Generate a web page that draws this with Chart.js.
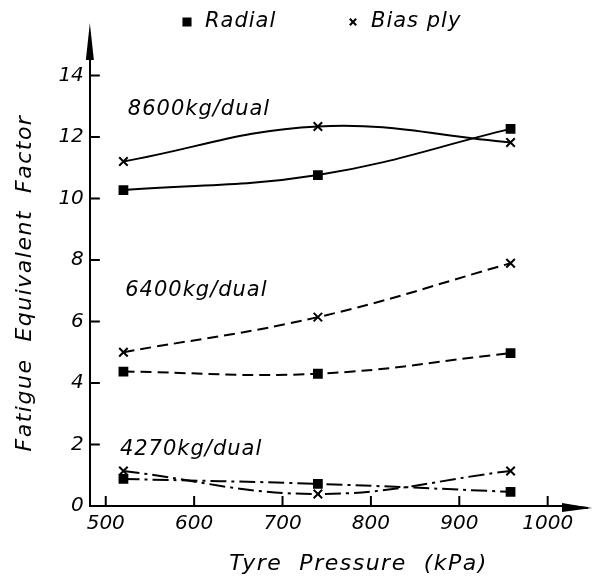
<!DOCTYPE html>
<html>
<head>
<meta charset="utf-8">
<script src="https://cdn.jsdelivr.net/npm/chart.js@4.4.1/dist/chart.umd.min.js"></script>
<style>
  html, body { margin: 0; padding: 0; background: #fff; }
  #wrap { width: 593px; height: 581px; }
</style>
</head>
<body>
<div id="wrap"><canvas id="chart"></canvas></div>
<script>
// data
const pressure = [520, 740, 958];
const radial8600 = [10.27, 10.76, 12.26];
const bias8600 = [11.2, 12.34, 11.82];
const radial6400 = [4.37, 4.3, 4.97];
const bias6400 = [5.0, 6.14, 7.89];
const radial4270 = [0.88, 0.72, 0.46];
const bias4270 = [1.14, 0.39, 1.14];
const xTicks = [500, 600, 700, 800, 900, 1000];
const yTicks = [0, 2, 4, 6, 8, 10, 12, 14];
const loadLabels = ['8600kg/dual', '6400kg/dual', '4270kg/dual'];
const seriesLabels = ['Radial', 'Bias ply'];
const xTitle = 'Tyre  Pressure  (kPa)';
const yTitle = 'Fatigue  Equivalent  Factor';

const FONT = "'DejaVu Sans', sans-serif";

function pts(ys) {
    return pressure.map((x, i) => ({x: x, y: ys[i]}));
}

function series(label, ys, style, dash) {
    return {
        label: label,
        data: pts(ys),
        borderColor: '#000',
        backgroundColor: '#000',
        borderWidth: 2,
        borderDash: dash,
        tension: 0.4,
        pointStyle: style,
        pointRadius: style == 'rect' ? 5.5 : 6,
        pointBorderWidth: 2,
        pointBackgroundColor: '#000',
        pointBorderColor: '#000'
    };
}

// ticks pointing inwards, arrow heads, curve labels, x title and the legend
const decor = {
    id: 'decor',
    beforeDraw(chart) {
        // spaced-out lettering for the y title (drawn with the grid layer)
        chart.ctx.letterSpacing = '1.5px';
    },
    beforeDatasetsDraw(chart) {
        chart.ctx.letterSpacing = '0px';
    },
    afterDraw(chart, args, opts) {
        const ctx = chart.ctx;
        const xs = chart.scales.x, ys = chart.scales.y;
        const area = chart.chartArea;
        ctx.save();
        ctx.strokeStyle = '#000';
        ctx.fillStyle = '#000';
        ctx.lineWidth = 2;

        // inward ticks
        ctx.beginPath();
        xs.ticks.forEach(t => {
            const px = xs.getPixelForValue(t.value);
            ctx.moveTo(px, area.bottom);
            ctx.lineTo(px, area.bottom - 10);
        });
        ys.ticks.forEach(t => {
            const py = ys.getPixelForValue(t.value);
            ctx.moveTo(area.left, py);
            ctx.lineTo(area.left + 10, py);
        });
        ctx.stroke();

        // arrow heads
        ctx.beginPath();
        ctx.moveTo(area.left, area.top - 37);
        ctx.lineTo(area.left - 4, area.top);
        ctx.lineTo(area.left + 4, area.top);
        ctx.closePath();
        ctx.fill();
        ctx.beginPath();
        ctx.moveTo(area.right + 24, area.bottom + 2);
        ctx.lineTo(area.right - 6, area.bottom - 3);
        ctx.lineTo(area.right - 6, area.bottom + 6);
        ctx.closePath();
        ctx.fill();
        ctx.beginPath();
        ctx.moveTo(area.right, area.bottom);
        ctx.lineTo(area.right + 20, area.bottom + 2);
        ctx.stroke();

        ctx.textAlign = 'left';
        ctx.textBaseline = 'middle';
        ctx.letterSpacing = '1px';

        // curve group labels
        ctx.font = 'italic 21px ' + FONT;
        opts.notes.forEach((n, i) => {
            ctx.fillText(loadLabels[i], xs.getPixelForValue(n.x), ys.getPixelForValue(n.y));
        });

        // legend
        const ly = 22;
        let lx = 187;
        [0, 1].forEach(i => {
            const ds = chart.data.datasets[i];
            Chart.helpers.drawPoint(ctx, {
                pointStyle: ds.pointStyle, radius: ds.pointStyle == 'rect' ? 5 : 4.5,
                borderWidth: 2, rotation: 0
            }, lx, ly);
            ctx.fillText(seriesLabels[i], lx + 18, ly);
            lx += 166;
        });

        // x title, sits right of the plot centre in the original
        ctx.font = 'italic 22px ' + FONT;
        ctx.letterSpacing = '1.5px';
        ctx.textAlign = 'center';
        ctx.fillText(xTitle, xs.getPixelForValue(opts.xTitleAt), 564);
        ctx.restore();
    }
};

new Chart(document.getElementById('chart'), {
    type: 'line',
    data: {
        datasets: [
            series('Radial', radial8600, 'rect', []),
            series('Bias ply', bias8600, 'crossRot', []),
            series('Radial', radial6400, 'rect', [11, 6]),
            series('Bias ply', bias6400, 'crossRot', [11, 6]),
            series('Radial', radial4270, 'rect', [16, 5, 3, 5]),
            series('Bias ply', bias4270, 'crossRot', [16, 5, 3, 5])
        ]
    },
    options: {
        responsive: true,
        maintainAspectRatio: false,
        animation: false,
        layout: { padding: { top: 60, right: 25, bottom: 39, left: 0 } },
        plugins: {
            legend: { display: false },
            tooltip: { enabled: false },
            decor: {
                notes: [ {x: 525, y: 12.9}, {x: 522, y: 7.0}, {x: 516, y: 1.85} ],
                xTitleAt: 786
            }
        },
        scales: {
            x: {
                type: 'linear',
                min: 482,
                max: 1023,
                afterBuildTicks: s => { s.ticks = xTicks.map(v => ({value: v})); },
                grid: { display: false, drawTicks: false },
                border: { display: true, color: '#000', width: 2 },
                ticks: {
                    color: '#000', padding: 6, z: 1,
                    callback: v => String(v),
                    font: { family: FONT, size: 20, style: 'italic' }
                }
            },
            y: {
                min: 0,
                max: 14.5,
                afterBuildTicks: s => { s.ticks = yTicks.map(v => ({value: v})); },
                grid: { display: false, drawTicks: false },
                border: { display: true, color: '#000', width: 2 },
                ticks: {
                    color: '#000', padding: 6, z: 1,
                    font: { family: FONT, size: 20, style: 'italic' }
                },
                title: {
                    display: true, text: yTitle, color: '#000',
                    padding: { top: 12, bottom: 14 },
                    font: { family: FONT, size: 22, style: 'italic' }
                }
            }
        }
    },
    plugins: [decor]
});
</script>
</body>
</html>
